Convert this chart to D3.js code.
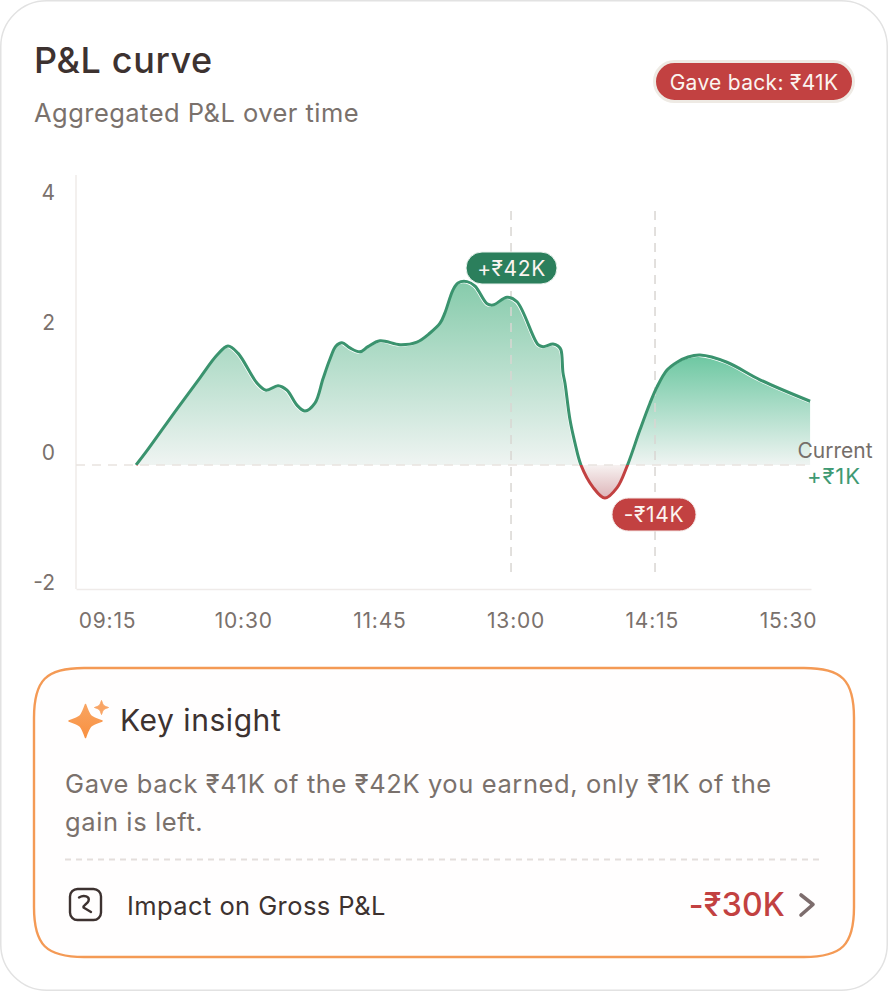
<!DOCTYPE html>
<html><head><meta charset="utf-8">
<script src="https://cdn.jsdelivr.net/npm/d3@7"></script>
<style>html,body{margin:0;padding:0;background:#fff}svg{display:block}text{font-family:Inter,"Noto Sans",sans-serif}</style>
</head><body><svg id="c" width="888" height="991"></svg>
<script>
// minutes after 09:15
const minutes=[16,21.5,38.5,51.2,60.6,66.6,72.1,82.6,87.6,94.2,99.1,104.6,109,114.5,119,122.8,126.1,129.4,133.8,139.3,143.7,150.3,161.4,170.7,177.9,183.4,186.1,190.5,193.3,198.3,202.7,209.3,212.6,220.3,225.8,237.4,240.1,245.6,248.4,250,251.1,252.2,255,257.7,261,267.6,274.2,280.9,286.4,293.5,299,302.9,308.4,313.9,320,326.6,341.4,359.6,387.2];
const pnl=[0,.2,.86,1.34,1.69,1.83,1.72,1.26,1.15,1.22,1.15,.92,.83,.95,1.33,1.63,1.83,1.88,1.80,1.74,1.82,1.91,1.85,1.89,2.03,2.18,2.34,2.69,2.80,2.82,2.75,2.48,2.46,2.58,2.51,1.85,1.82,1.86,1.83,1.77,1.42,1.26,.69,.34,0,-.34,-.51,-.35,-.02,.54,.95,1.20,1.46,1.58,1.66,1.69,1.58,1.31,.98];
const xTickMinutes=[0,75,150,225,300,375];
const xTickLabels=["09:15","10:30","11:45","13:00","14:15","15:30"];
const yTicks=[4,2,0,-2];
const markerMinutes=[222.5,301.8];
const crossings=[261,286.3];

const svg=d3.select("#c");
const x=d3.scaleLinear().domain([-17.07,387.7]).range([76,811]);
const y=d3.scaleLinear().domain([-1.908,4.46]).range([589,175]);
const pts=minutes.map((m,i)=>[m,pnl[i]]);
const curve=d3.curveCatmullRom.alpha(0.5);
const line=d3.line().x(d=>x(d[0])).y(d=>y(d[1])).curve(curve);
const area=d3.area().x(d=>x(d[0])).y0(y(0)).y1(d=>y(d[1])).curve(curve);

const defs=svg.append("defs");
const grad=(id,y1,y2,c1,c2)=>{const g=defs.append("linearGradient").attr("id",id).attr("gradientUnits","userSpaceOnUse").attr("x1",0).attr("x2",0).attr("y1",y1).attr("y2",y2);
 g.append("stop").attr("offset",0).attr("stop-color",c1);g.append("stop").attr("offset",1).attr("stop-color",c2);};
const top1=d3.max(pts.filter(d=>d[0]<=crossings[0]),d=>d[1]);
const top2=d3.max(pts.filter(d=>d[0]>=crossings[1]),d=>d[1]);
const low=d3.min(pts,d=>d[1]);
grad("gp1",y(top1),y(0),"#86cbab","#eff4f2");
grad("gp2",y(top2),y(0),"#6cc7a1","#eff4f2");
grad("gn",y(0),y(low),"#f7f2f1","#ddb4b8");
grad("sp",700,740,"#f8a766","#f98f3e");
const clip=(id,a,b,c,d)=>defs.append("clipPath").attr("id",id).append("rect").attr("x",a).attr("y",b).attr("width",c).attr("height",d);
clip("up",0,0,888,y(0));
clip("down",0,y(0),888,200);
clip("upL",0,0,x(crossings[0]),y(0));
clip("upR",x(crossings[1]),0,888,y(0));

// card
svg.append("rect").attr("x",.75).attr("y",.75).attr("width",886.5).attr("height",989.5).attr("rx",46).attr("fill","#fff").attr("stroke","#e2e2e2").attr("stroke-width",1.5);

const T=(s,xx,yy,size,fill,opt={})=>svg.append("text").attr("x",xx).attr("y",yy).attr("font-size",size).attr("fill",fill)
 .attr("font-weight",opt.w||400).attr("text-anchor",opt.a||"start").attr("letter-spacing",opt.ls||0).text(s);
T("P&L curve",34,73,36,"#3d3230",{w:500,ls:.6});
T("Aggregated P&L over time",34,122,25.5,"#7a716c",{ls:.46});

const pill=(x0,y0,w,h,fill,stroke,sw,label,size,tx,ty,ls)=>{
 svg.append("rect").attr("x",x0).attr("y",y0).attr("width",w).attr("height",h).attr("rx",h/2).attr("fill",fill).attr("stroke",stroke).attr("stroke-width",sw);
 T(label,tx,ty,size,"#fbf4f0",{a:"middle",ls});
};
pill(654.5,61.5,199,40,"#c24141","#eeeae4",3,"Gave back: ₹41K",21,754,89.5,.3);

// axes
const ax=svg.append("g").attr("transform","translate(76,0)").call(d3.axisLeft(y).tickValues(yTicks).tickSize(0).tickFormat(d=>d).tickPadding(21));
ax.select(".domain").attr("stroke","#efebe9").attr("stroke-width",1.5).attr("d","M0,175V589");
ax.selectAll("text").attr("font-size",21).attr("fill","#7a716c").attr("dy","-0.25em").style("font-family","Inter");
const bx=svg.append("g").attr("transform","translate(0,589)").call(d3.axisBottom(x).tickValues(xTickMinutes).tickSize(0).tickFormat((d,i)=>xTickLabels[i]).tickPadding(24));
bx.select(".domain").attr("stroke","#efebe9").attr("stroke-width",1.5);
bx.selectAll("text").attr("font-size",21).attr("letter-spacing",.8).attr("fill","#7a716c").style("font-family","Inter");

// areas
svg.append("path").datum(pts).attr("d",area).attr("fill","url(#gp1)").attr("clip-path","url(#upL)");
svg.append("path").datum(pts).attr("d",area).attr("fill","url(#gp2)").attr("clip-path","url(#upR)");
svg.append("path").datum(pts).attr("d",area).attr("fill","url(#gn)").attr("clip-path","url(#down)");

// zero + markers
svg.append("line").attr("x1",76).attr("x2",811).attr("y1",y(0)).attr("y2",y(0)).attr("stroke","#e9e4e0").attr("stroke-width",1.5).attr("stroke-dasharray","9 7");
svg.selectAll(".mk").data(markerMinutes).enter().append("line").attr("x1",d=>x(d)).attr("x2",d=>x(d)).attr("y1",211).attr("y2",575)
 .attr("stroke","#d9d6d2").attr("stroke-width",1.5).attr("stroke-dasharray","9 7");

// lines
svg.append("path").datum(pts).attr("d",line).attr("fill","none").attr("stroke","#fff").attr("stroke-width",1.3).attr("transform","translate(-1.2,1.2)").attr("clip-path","url(#up)");
svg.append("path").datum(pts).attr("d",line).attr("fill","none").attr("stroke","#3a936e").attr("stroke-width",3).attr("stroke-linejoin","round").attr("clip-path","url(#up)");
svg.append("path").datum(pts).attr("d",line).attr("fill","none").attr("stroke","#c24141").attr("stroke-width",3).attr("clip-path","url(#down)");

pill(466,252,91,32,"#2b7f5c","#eaf3ee",1,"+₹42K",21,511.5,275.5,.6);
pill(612,498,84,33,"#c24141","#f3e6e4",1,"-₹14K",21,654,522,.7);
T("Current",835,458,21,"#756e69",{a:"middle"});
T("+₹1K",834,484,22,"#3f9a73",{a:"middle",ls:1});

// insight box
svg.append("path").attr("d","M84,668H804C842,668 854,680 854,718V907C854,945 842,957 804,957H84C46,957 34,945 34,907V718C34,680 46,668 84,668Z")
 .attr("fill","#fffefe").attr("stroke","#f49a55").attr("stroke-width",2.4);
const star=(cx,cy,r)=>{const k=r*.26;return `M${cx},${cy-r}C${cx+k},${cy-k} ${cx+k},${cy-k} ${cx+r},${cy}C${cx+k},${cy+k} ${cx+k},${cy+k} ${cx},${cy+r}C${cx-k},${cy+k} ${cx-k},${cy+k} ${cx-r},${cy}C${cx-k},${cy-k} ${cx-k},${cy-k} ${cx},${cy-r}Z`;};
svg.append("path").attr("d",star(85.5,721,16.5)).attr("fill","url(#sp)").attr("stroke","url(#sp)").attr("stroke-width",1.5).attr("stroke-linejoin","round");
svg.append("path").attr("d",star(101.5,707.5,7)).attr("fill","#f9a565").attr("stroke","#f9a565").attr("stroke-width",1).attr("stroke-linejoin","round");
T("Key insight",120,731,30,"#3d3230",{ls:.55});
T("Gave back ₹41K of the ₹42K you earned, only ₹1K of the",65,793,25.5,"#7a716c",{ls:.6});
T("gain is left.",65,831,25.5,"#7a716c",{ls:.6});
svg.append("line").attr("x1",65).attr("x2",823).attr("y1",859.5).attr("y2",859.5).attr("stroke","#e4dedb").attr("stroke-width",2).attr("stroke-dasharray","6 5");
svg.append("rect").attr("x",70).attr("y",889).attr("width",31).attr("height",31).attr("rx",7.5).attr("fill","none").attr("stroke","#3d3230").attr("stroke-width",2.4);
svg.append("path").attr("d","M79,897.5C84,894.5 90,896.5 88.5,901C87.5,904 83,905 83.5,907.5L91,912").attr("fill","none").attr("stroke","#3d3230").attr("stroke-width",2.4).attr("stroke-linecap","round").attr("stroke-linejoin","round");
T("Impact on Gross P&L",127,915,25.5,"#3d3230",{ls:.42});
T("-₹30K",785,916,32,"#c24141",{a:"end",w:500,ls:.2});
svg.append("path").attr("d","M801,895L813,904.5L801,915").attr("fill","none").attr("stroke","#7d6d6d").attr("stroke-width",3.6).attr("stroke-linecap","round").attr("stroke-linejoin","round");
</script></body></html>
